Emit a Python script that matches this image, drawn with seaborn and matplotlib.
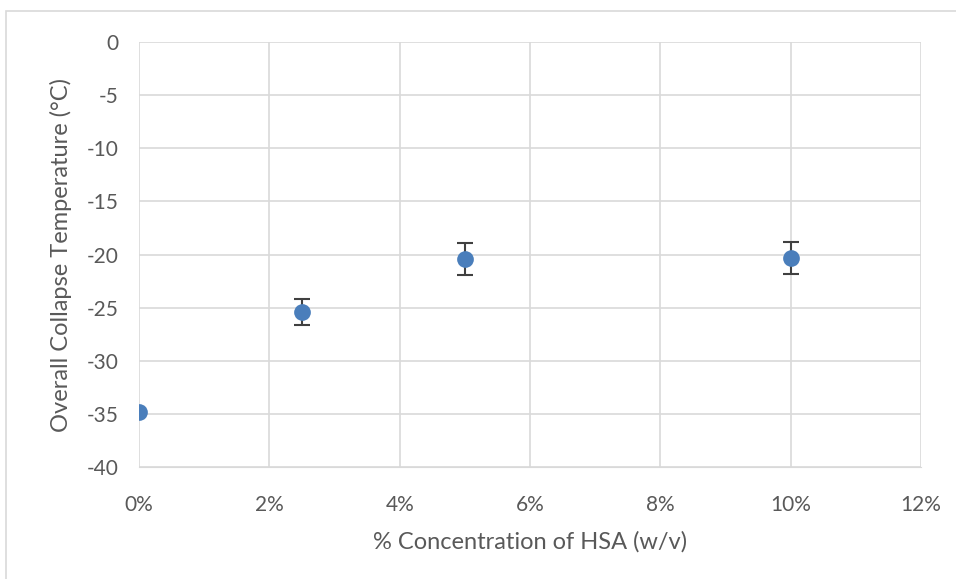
import matplotlib
matplotlib.use('Agg')
import matplotlib.pyplot as plt
import seaborn as sns
import pandas as pd
from matplotlib.ticker import FuncFormatter

# data
conc = [0.0, 2.5, 5.0, 10.0]
temp = [-34.8, -25.4, -20.4, -20.35]
err = [0.0, 1.2, 1.5, 1.5]

df = pd.DataFrame({'conc': conc, 'temp': temp, 'err': err})

sns.set_style('white')
plt.rcParams['font.family'] = ['Lato', 'DejaVu Sans']
plt.rcParams['axes.unicode_minus'] = False

fig = plt.figure(figsize=(9.56, 5.79), dpi=100)
ax = fig.add_axes([0.1454, 0.1934, 0.818, 0.734])

# outer chart border like excel
fig.patches.append(plt.Rectangle((0.006, -0.01), 1.1, 0.991, transform=fig.transFigure,
                                 fill=False, edgecolor='#d9d9d9', linewidth=1.2))

# error bars with caps
e = df[df['err'] > 0]
ax.errorbar(e['conc'], e['temp'], yerr=e['err'], fmt='none', ecolor='#404040',
            elinewidth=1.5, capsize=6, capthick=1.5, zorder=3)
sns.scatterplot(data=df, x='conc', y='temp', ax=ax, s=145, color='#4a7ebb',
                edgecolor='#4a7ebb', linewidth=0, zorder=4, legend=False)

ax.set_xlim(0, 12)
ax.set_ylim(-40, 0)
ax.set_xticks(range(0, 13, 2))
ax.set_yticks(range(-40, 1, 5))
ax.xaxis.set_major_formatter(FuncFormatter(lambda v, p: f'{int(v)}%'))
ax.grid(True, color='#d9d9d9', linewidth=1.2)
ax.set_axisbelow(True)
for s in ax.spines.values():
    s.set_visible(False)
ax.spines['bottom'].set_visible(True)
ax.spines['bottom'].set_color('#d9d9d9')
ax.tick_params(axis='both', colors='#595959', labelsize=15, length=0)
ax.tick_params(axis='x', pad=20)
ax.tick_params(axis='y', pad=15)

ax.set_xlabel('% Concentration of HSA (w/v)', fontsize=17, color='#595959', labelpad=12)
ax.set_ylabel('Overall Collapse Temperature (°C)', fontsize=17, color='#595959', labelpad=10)

fig.savefig('out.png', dpi=100)
